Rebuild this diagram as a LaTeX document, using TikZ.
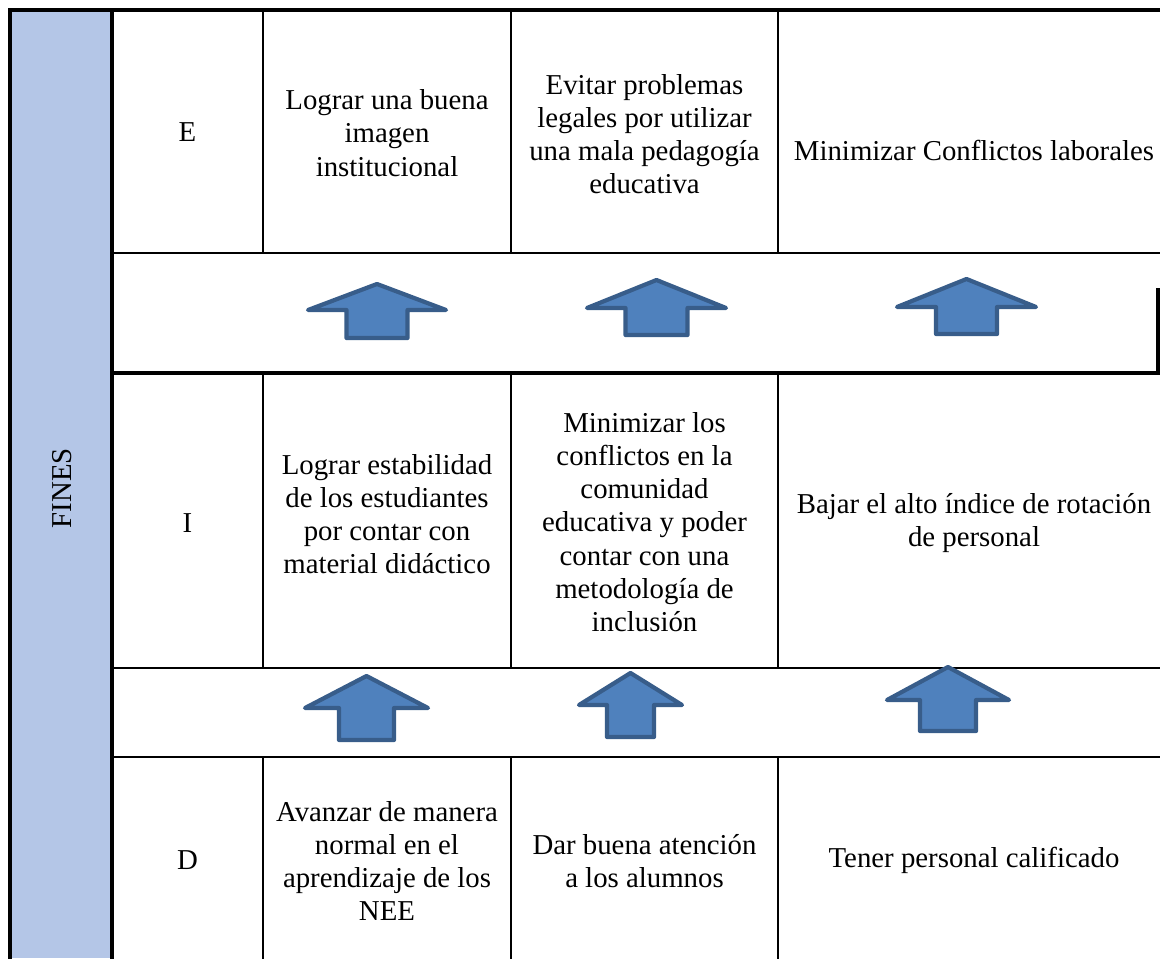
\documentclass[tikz,border=0pt]{standalone}
\usepackage{fontspec}
\setmainfont{Liberation Serif}
\usepackage{xcolor}
\usepackage{tikz}
\usetikzlibrary{positioning}

\definecolor{finesblue}{RGB}{180,198,231}
\definecolor{flechafill}{RGB}{79,129,189}
\definecolor{flechaborde}{RGB}{56,93,138}

\begin{document}
\begin{tikzpicture}[x=0.02cm, y=-0.02cm, font=\fontsize{16.4}{18.9}\selectfont, line cap=rect]
				\useasboundingbox (0,0) rectangle (1160,958);
				
				% ===== styles =====
				\tikzset{linea/.style={black, line width=1.15pt},
					gruesa/.style={black, line width=1.9pt},
					celda/.style={align=center, inner sep=0pt},
					flecha/.style={draw=flechaborde, fill=flechafill, line width=2.4pt, line join=round}}
				
				% ===== columna FINES =====
				\fill[finesblue] (11,11) rectangle (112,958);
				\node[rotate=90, inner sep=0pt] (fines) at (62,488) {FINES};
				
				% ===== bordes =====
				\draw[gruesa] (10,958) -- (10,10) -- (1160,10);
				\draw[gruesa] (112,10) -- (112,958);
				\draw[linea] (112,253) -- (1160,253);
				\draw[gruesa, line width=2.3pt] (112,373) -- (1160,373);
				\draw[gruesa] (1158,290) -- (1158,373);
				\draw[linea] (112,668) -- (1160,668);
				\draw[linea] (112,757) -- (1160,757);
				
				% ===== vertical lines of the three rows =====
				\foreach \x in {263,511,778}{
					\draw[linea] (\x,10) -- (\x,253);
					\draw[linea] (\x,373) -- (\x,668);
					\draw[linea] (\x,757) -- (\x,958);
				}
				
				% ===== flechas =====
				\foreach \cx/\hh/\ya/\yb/\hs/\yc in {377/69/284/310/30.5/338, 656.5/69.5/280/308/31/335, 966.5/69.5/279/307/30.5/334,
					366.5/61.5/676/708/27.5/740, 630.5/51.5/673/705/23.5/737, 948/61/667/700/28/731}{
					\draw[flecha] (\cx-\hh,\yb) -- (\cx,\ya) -- (\cx+\hh,\yb) -- (\cx+\hs,\yb) -- (\cx+\hs,\yc)
						-- (\cx-\hs,\yc) -- (\cx-\hs,\yb) -- cycle;
				}
				
				% ===== fila E =====
				\node[celda] (e0) at (187.5,132) {E};
				\node[celda] (e1) at (387,133) {Lograr una buena\\imagen\\institucional};
				\node[celda] (e2) at (644.5,134) {Evitar problemas\\legales por utilizar\\una mala pedagogía\\educativa};
				\node[celda] (e3) at (974,150) {Minimizar Conflictos laborales};
				
				% ===== fila I =====
				\node[celda] (i0) at (187.5,523) {I};
				\node[celda] (i1) at (387,514) {Lograr estabilidad\\de los estudiantes\\por contar con\\material didáctico};
				\node[celda] (i2) at (644.5,522) {Minimizar los\\conflictos en la\\comunidad\\educativa y poder\\contar con una\\metodología de\\inclusión};
				\node[celda] (i3) at (974,523) {Bajar el alto índice de rotación\\de personal};
				
				% ===== fila D =====
				\node[celda] (d0) at (187.5,860) {D};
				\node[celda] (d1) at (387,861) {Avanzar de manera\\normal en el\\aprendizaje de los\\NEE};
				\node[celda] (d2) at (644.5,861) {Dar buena atención\\a los alumnos};
				\node[celda] (d3) at (974,860) {Tener personal calificado};
			\end{tikzpicture}
\end{document}
